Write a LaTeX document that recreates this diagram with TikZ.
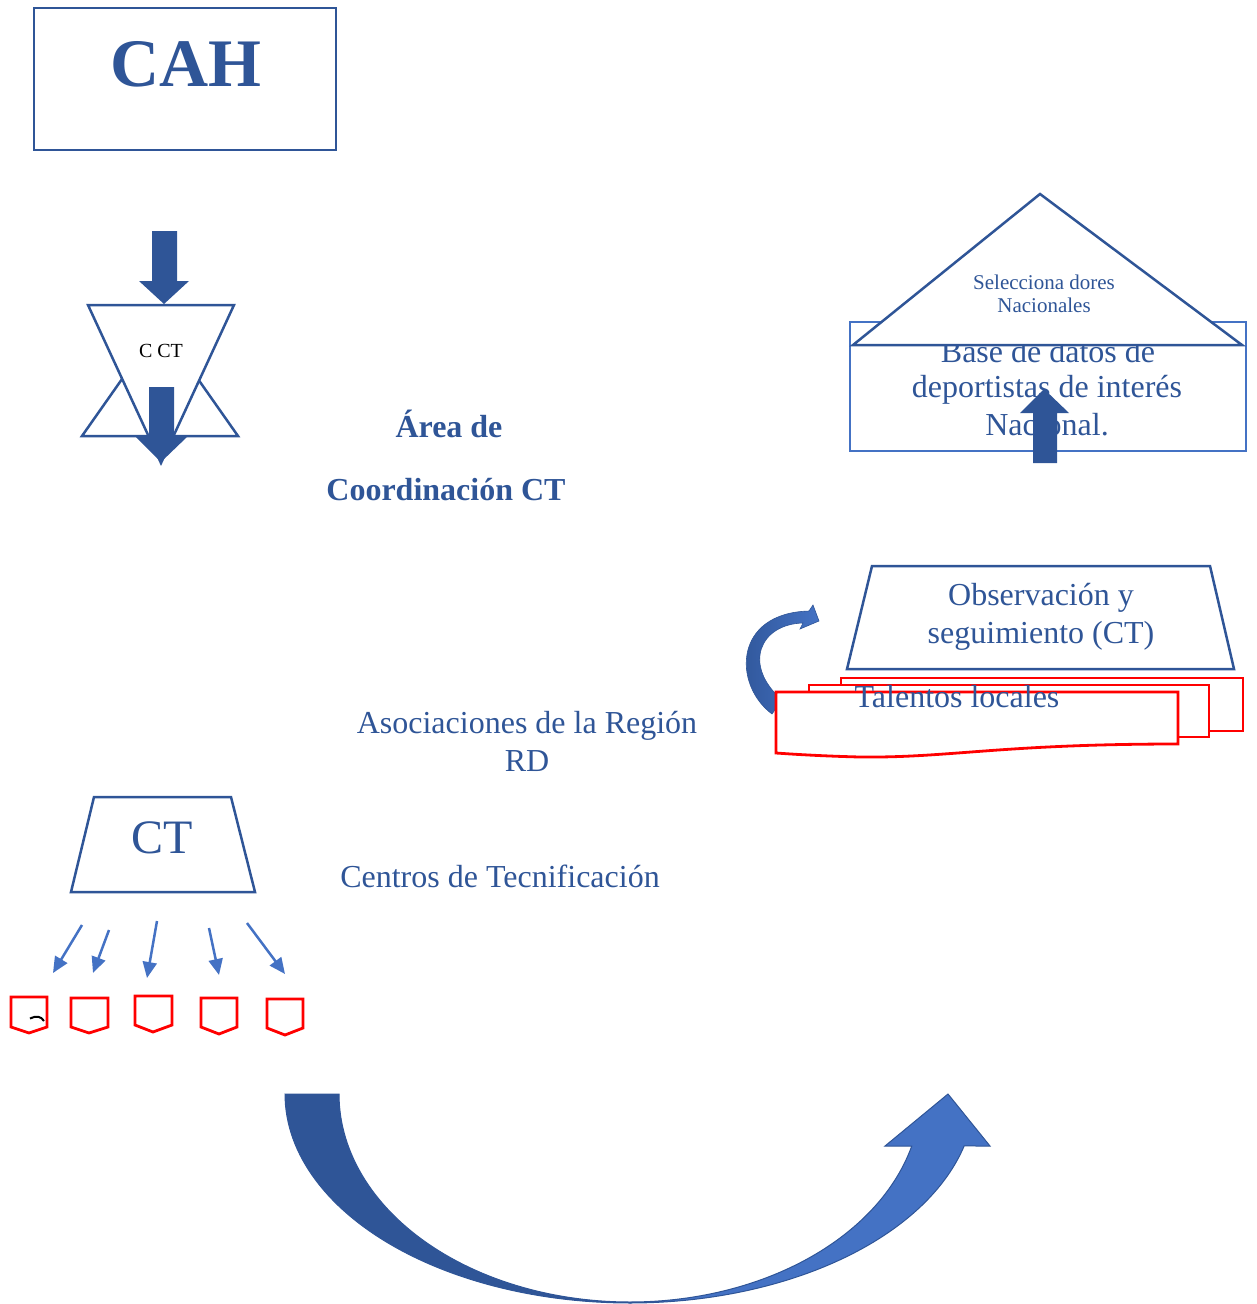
\documentclass[tikz,border=0pt]{standalone}
\usepackage{fontspec}
\setmainfont{Liberation Serif}
\usetikzlibrary{arrows.meta}
\definecolor{dblue}{HTML}{2F5597}
\definecolor{lblue}{HTML}{4472C4}
\definecolor{docred}{HTML}{FF0000}
\newcommand\fmainsz{\fontsize{32}{37}\selectfont}
\newcommand\fsmallsz{\fontsize{21}{25}\selectfont}
\begin{document}
\begin{tikzpicture}[x=1pt,y=-1pt,
  outline/.style={draw=dblue, line width=2.5pt, fill=white, line join=miter},
  blockarrow/.style={fill=dblue, draw=none},
  docshape/.style={draw=docred, line width=2.8pt, fill=white},
  shieldshape/.style={draw=docred, line width=2.8pt, fill=white, line join=miter},
  thinarrow/.style={draw=lblue, line width=2.5pt, -{Triangle[length=16pt,width=14pt]}},
  lbl/.style={text=dblue, inner sep=0pt, anchor=base},
  mainlbl/.style={lbl, font=\fmainsz},
  boldlbl/.style={lbl, font=\fmainsz\bfseries},
  smalllbl/.style={lbl, font=\fsmallsz}]
\useasboundingbox (0,0) rectangle (1256,1304);

% CAH box
\draw[outline] (34,8) rectangle (336,150);
\node[lbl, font=\fontsize{68}{80}\selectfont\bfseries] (cah) at (186,86) {CAH};

% triangles
\draw[outline] (82,436) -- (238,436) -- (160,325) -- cycle;
\draw[outline] (88,305) -- (234,305) -- (161,463) -- cycle;
\node[anchor=base, inner sep=0pt, font=\fontsize{20}{24}\selectfont, text=black] (cct) at (161,357) {C CT};
% block arrows
\fill[blockarrow] (152,231) -- (177,231) -- (177,281) -- (189,281) -- (164,304) -- (139,281) -- (152,281) -- cycle;
\fill[blockarrow] (149,387) -- (174,387) -- (174,437) -- (187,437) -- (161,462) -- (136,437) -- (149,437) -- cycle;

% labels in the middle
\node[boldlbl] (area1) at (449,437) {Área de};
\node[boldlbl] (area2) at (446,500) {Coordinación CT};
\node[mainlbl] (asoc1) at (527,733) {Asociaciones de la Región};
\node[mainlbl] (asoc2) at (527,771) {RD};
\node[mainlbl] (centros) at (500,887) {Centros de Tecnificación};

% base de datos + selecciona
\draw[draw=lblue, line width=2.5pt] (850,322) rectangle (1246,451);
\node[mainlbl] (bd1) at (1048,362) {Base de datos de};
\node[mainlbl] (bd2) at (1047,397) {deportistas de interés};
\node[mainlbl] (bd3) at (1047,435) {Nacional.};
\draw[outline] (853,345) -- (1242,345) -- (1040,194) -- cycle;
\node[smalllbl] (sel1) at (1044,289) {Selecciona dores};
\node[smalllbl] (sel2) at (1044,312) {Nacionales};
\fill[blockarrow] (1033,463) -- (1057,463) -- (1057,413) -- (1069,413) -- (1044,389) -- (1020,413) -- (1033,413) -- cycle;

% observacion trapezoid
\draw[outline] (872,566) -- (1210,566) -- (1234,669) -- (847,669) -- cycle;
\node[mainlbl] (obs1) at (1041,605) {Observación y};
\node[mainlbl] (obs2) at (1041,643) {seguimiento (CT)};

% small curved arrow
\path[left color=dblue, right color=lblue, draw=dblue, line width=0.6pt]
  (772,714) .. controls (733,685) and (733,613) .. (809,611) -- (813,605) -- (819,621)
  -- (800,629) -- (803,623) .. controls (760,624) and (742,665) .. (782,700) -- cycle;

% talentos locales documents
\draw[docshape] (841,678) rectangle (1243,731);
\draw[docshape] (809,685) rectangle (1209,737);
\draw[docshape] (776,692) -- (1178,692) -- (1178,744)
  .. controls (1000,744) and (950,758) .. (860,757)
  .. controls (820,756) and (790,754) .. (776,753) -- cycle;
\node[mainlbl] (tal) at (957,707) {Talentos locales};

% CT trapezoid
\draw[outline] (94,797) -- (231,797) -- (255,892) -- (71,892) -- cycle;
\node[lbl, font=\fontsize{48}{56}\selectfont] (ct) at (162,853) {CT};

% small arrows
\coordinate (s1) at (82,925);  \coordinate (e1) at (53,973);
\coordinate (s2) at (109,930); \coordinate (e2) at (93,973);
\coordinate (s3) at (157,921); \coordinate (e3) at (147,978);
\coordinate (s4) at (209,928); \coordinate (e4) at (219,975);
\coordinate (s5) at (247,923); \coordinate (e5) at (285,974);
\draw[thinarrow] (s1) -- (e1);
\draw[thinarrow] (s2) -- (e2);
\draw[thinarrow] (s3) -- (e3);
\draw[thinarrow] (s4) -- (e4);
\draw[thinarrow] (s5) -- (e5);

% shields
\draw[shieldshape] (11,997) -- (47,997) -- (47,1027) -- (29,1033) -- (11,1027) -- cycle;
\draw[shieldshape] (71,998) -- (108,998) -- (108,1027) -- (89,1033) -- (71,1027) -- cycle;
\draw[shieldshape] (135,996) -- (172,996) -- (172,1025) -- (153,1032) -- (135,1025) -- cycle;
\draw[shieldshape] (201,998) -- (237,998) -- (237,1027) -- (219,1034) -- (201,1027) -- cycle;
\draw[shieldshape] (267,999) -- (303,999) -- (303,1028) -- (285,1035) -- (267,1028) -- cycle;
\draw[line width=2pt, black] (30,1018.5) .. controls (36,1015.5) and (41,1016) .. (44,1021);

% big U arrow
\filldraw[fill=dblue, draw=dblue, line width=1pt]
  plot[domain=180:90, samples=60] ({630+345*cos(\x)},{1094+209*sin(\x)})
  -- plot[domain=90:180, samples=60] ({630+291*cos(\x)},{1094+208*sin(\x)}) -- cycle;
\filldraw[fill=lblue, draw=dblue, line width=1pt]
  plot[domain=90:14.4, samples=60] ({630+345*cos(\x)},{1094+209*sin(\x)})
  -- (990,1146) -- (948,1094) -- (885,1146)
  -- plot[domain=14.48:90, samples=60] ({630+291*cos(\x)},{1094+208*sin(\x)}) -- cycle;
\end{tikzpicture}
\end{document}
